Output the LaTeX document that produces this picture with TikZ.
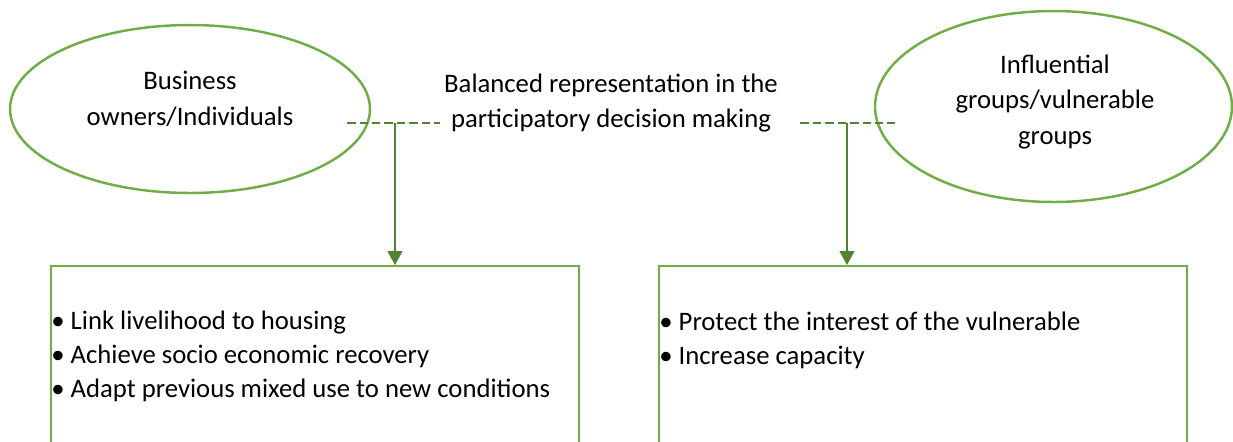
\documentclass[tikz,border=0pt]{standalone}
\usepackage{fontspec}
\setmainfont{Carlito}
\usetikzlibrary{arrows.meta,shapes.geometric,positioning,calc}
\definecolor{edge_green}{RGB}{112, 173, 71}
\definecolor{link_green}{RGB}{84, 130, 53}

\begin{document}
\begin{tikzpicture}[
    % Styles
    x=0.02cm, y=-0.02cm,
    font=\fontsize{15.2pt}{20.3pt}\selectfont,
    >={Triangle[width=3mm,length=2.8mm]},
    % Groups
    group/.style={
        ellipse,
        draw=edge_green,
        line width=1.4pt,
        inner sep=0pt
    },
    grouptext/.style={
        align=center,
        inner sep=0pt
    },
    % Boxes
    goalbox/.style={
        rectangle,
        draw=edge_green,
        line width=1.4pt,
        minimum width=10.56cm,
        minimum height=3.8cm,
        anchor=north west
    },
    goallist/.style={
        align=left,
        anchor=north west,
        inner sep=0pt,
        font=\fontsize{15.2pt}{19.1pt}\selectfont
    },
    tie/.style={
        draw=link_green,
        line width=1.4pt,
        dash pattern=on 0.17cm off 0.08cm
    },
    feed/.style={
        ->,
        draw=link_green,
        fill=link_green,
        line width=0.9pt
    }
]
\useasboundingbox (0,0) rectangle (1233,441);

% --- LAYOUT ---

% 1. Stakeholder groups (ellipses)
\node[group, minimum width=7.2cm, minimum height=3.36cm] (owners) at (190,109) {};
\node[grouptext] (ownerstext) at (190,99) {Business\\owners/Individuals};

\node[group, minimum width=7.14cm, minimum height=3.82cm] (influential) at (1053.5,106.5) {};
\node[grouptext] (influentialtext) at (1055,102) {Influential\\groups/vulnerable\\groups};

% 2. Shared aim (middle)
\node[grouptext] (balance) at (611,103) {Balanced representation in the\\participatory decision making};

% 3. Goal boxes
\node[goalbox] (ownersbox) at (50,265) {};
\node[goalbox] (influentialbox) at (658,265) {};

\node[goallist] (ownerslist) at (51,311) {%
    \textbullet\ Link livelihood to housing\\
    \textbullet\ Achieve socio economic recovery\\
    \textbullet\ Adapt previous mixed use to new conditions};
\node[goallist] (influentiallist) at (659,312) {%
    \textbullet\ Protect the interest of the vulnerable\\
    \textbullet\ Increase capacity};

% --- CONNECTORS ---

% Dashed ties to the middle text
\coordinate (ownerstieL) at (347,123);
\coordinate (ownerstieR) at (440,123);
\coordinate (ownersjoin) at (395,123);
\coordinate (infltieL) at (800,123);
\coordinate (infltieR) at (895,123);
\coordinate (infljoin) at (847,123);

\path[tie] (ownerstieL) -- (ownerstieR);
\path[tie] (infltieL) -- (infltieR);

% Arrows down to the boxes
\path[feed] (ownersjoin) -- (ownersjoin |- ownersbox.north);
\path[feed] (infljoin) -- (infljoin |- influentialbox.north);

\end{tikzpicture}
\end{document}
